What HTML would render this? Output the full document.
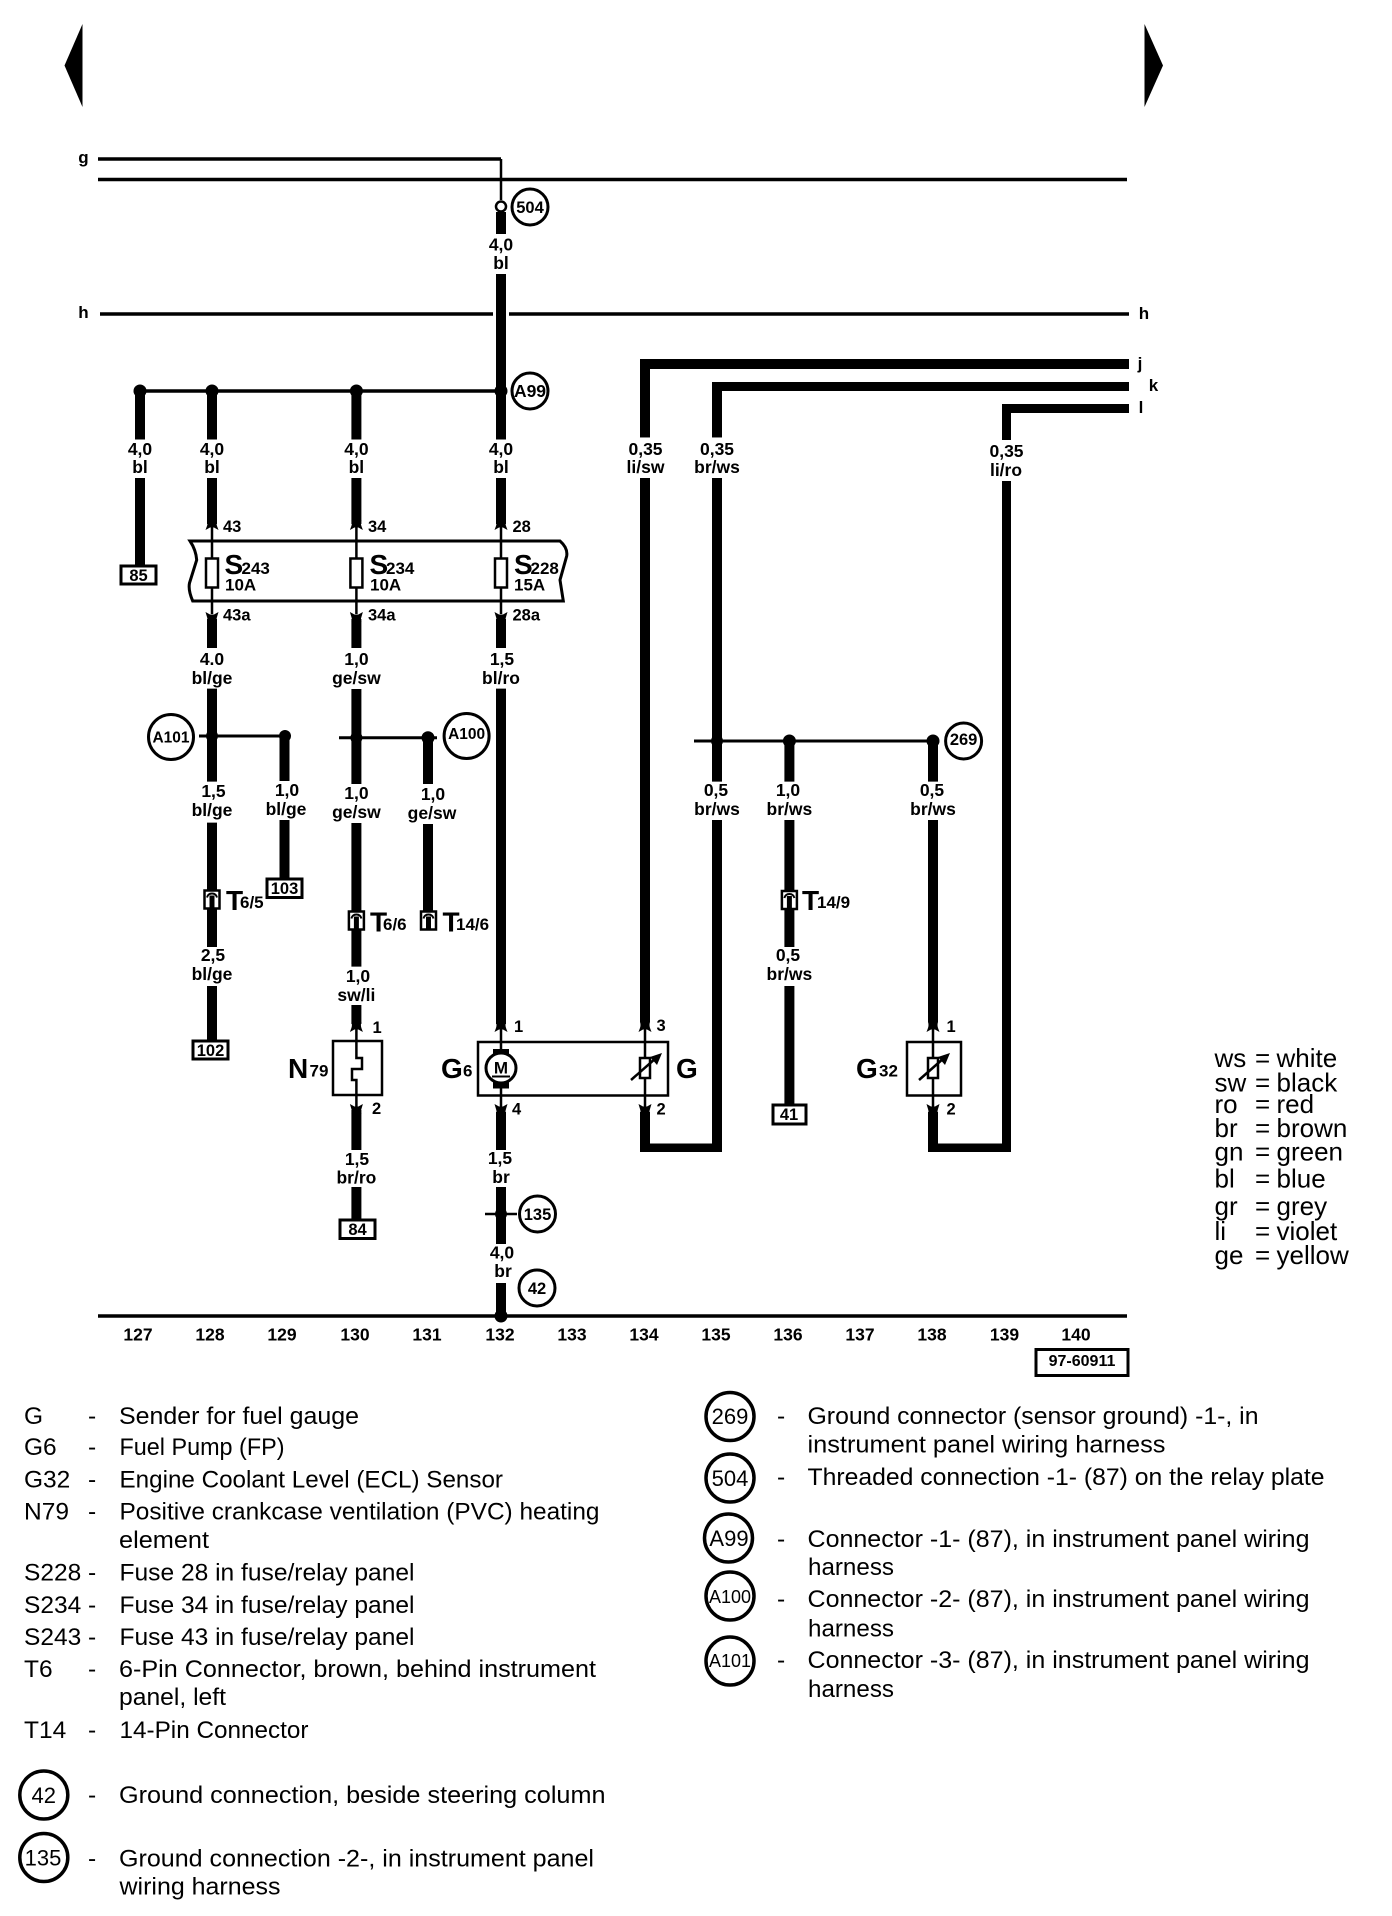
<!DOCTYPE html>
<html><head><meta charset="utf-8"><style>
html,body{margin:0;padding:0;background:#fff}
svg{display:block}
text{font-family:"Liberation Sans",sans-serif;fill:#000}
.b text,.b{font-weight:bold;font-size:17.5px;text-anchor:middle}
.p text{font-weight:bold;font-size:16.5px}
.big{font-weight:bold;font-size:28px}
.sub{font-weight:bold;font-size:17px}
.l text{font-size:24.5px}
.k text{font-size:26px}
.c{fill:#fff;stroke:#000;stroke-width:3}
.w{stroke:#000;stroke-width:10;fill:none}
.t{stroke:#000;stroke-width:3.5;fill:none}
.s{stroke:#000;stroke-width:2.5;fill:none}
.bx{fill:#fff;stroke:#000;stroke-width:3}
</style></head><body>
<svg width="1392" height="1916" viewBox="0 0 1392 1916" xmlns="http://www.w3.org/2000/svg">
<defs>
<g id="u"><path d="M-6.5 4 L-5 0 Q-4 -3 -5 -6 H5 Q4 -3 5 0 L6.5 4 L2 1.5 H-2Z" fill="#000"/></g>
<g id="d"><path d="M-6.5 -4 L-2 -1.5 H2 L6.5 -4 L5 1 Q4 4 5 6 H-5 Q-4 4 -5 1Z" fill="#000"/></g>
<g id="cn"><rect x="-7.5" y="-9" width="15" height="18" fill="#fff" stroke="#000" stroke-width="2.5"/><path d="M-5 -2 Q-4 -6 0 -6 Q4 -6 5 -2" fill="none" stroke="#000" stroke-width="2"/><rect x="-2.5" y="-4" width="5" height="13" fill="#000"/></g>
<g id="r"><rect x="-5" y="-10" width="10" height="20" fill="#fff" stroke="#000" stroke-width="2.5"/><path d="M-14 12 L11 -10" stroke="#000" stroke-width="2.5"/><path d="M17 -15 L5 -11 L12 -3Z" fill="#000"/></g>
<g id="f"><rect x="-6" y="-14.5" width="12" height="29" fill="#fff" stroke="#000" stroke-width="2.5"/></g>
</defs>

<!-- nav arrows -->
<path d="M82.5 24 V107 L64.5 65.5Z" fill="#000"/>
<path d="M1144.5 24 V107 L1163 65.5Z" fill="#000"/>

<!-- rails -->
<path class="t" d="M98 159 H501"/>
<path class="s" d="M501 159 V200"/>
<path class="t" d="M98 179.5 H1127"/>
<path class="t" d="M100 314 H493 M509 314 H1129"/>
<path class="t" d="M98 1316 H1127"/>

<!-- thick wires -->
<path class="w" d="M501 212V234 M501 274V439.5 M501 478V524 M501 619V648 M501 688.6V1024 M501 1112V1150 M501 1187V1244 M501 1283V1316"/>
<path class="w" d="M212 391V439.5 M212 478V524 M212 619V648 M212 688.6V781.6 M212 822.6V947 M212 986V1041"/>
<path class="w" d="M140 391V439.5 M140 478V565"/>
<path class="w" d="M356.4 391V439.5 M356.4 478V524 M356.4 619V648 M356.4 689V784 M356.4 823V966.6 M356.4 1005V1024 M356.4 1110V1150 M356.4 1187V1220"/>
<path class="w" d="M284.5 736V781 M284.5 820V879"/>
<path class="w" d="M428 738V784 M428 824V911"/>
<path class="w" d="M645 364V437.4 M645 478V1022"/>
<path class="w" d="M717 386V437.4 M717 478V781.6 M717 820V1152"/>
<path class="w" d="M789.4 741V781.6 M789.4 820V947 M789.4 986V1105"/>
<path class="w" d="M933 741V781.6 M933 820V1022"/>
<path class="w" style="stroke-width:9" d="M1006.5 408V440 M1006.5 481V1152"/>
<path d="M640 359H1129V369H650V437.4H640Z" fill="#000"/>
<path d="M712 382H1129V391H722V437.4H712Z" fill="#000"/>
<path d="M1002 404H1129V413H1011V440H1002Z" fill="#000"/>
<path d="M640 1112H650V1143.5H712V1152H640Z" fill="#000"/>
<path d="M928 1112H938V1143.5H1006V1152H928Z" fill="#000"/>

<!-- junction buses -->
<path class="t" d="M140 391H501"/>
<path class="t" style="stroke-width:3" d="M199 736H286"/>
<path class="t" style="stroke-width:3" d="M339 737.7H437"/>
<path class="t" style="stroke-width:3" d="M694 741H933"/>
<path class="s" d="M485 1214H517"/>
<g fill="#000">
<circle cx="140" cy="391" r="6.5"/><circle cx="212" cy="391" r="6.5"/><circle cx="356.4" cy="391" r="6.5"/><circle cx="501" cy="391" r="6.5"/>
<circle cx="212" cy="736" r="6"/><circle cx="285" cy="736" r="6"/><circle cx="356.4" cy="737.7" r="6"/><circle cx="428" cy="737.7" r="6.5"/>
<circle cx="717" cy="741" r="6"/><circle cx="789.4" cy="741" r="6.5"/><circle cx="933" cy="741" r="6.5"/>
<circle cx="501" cy="1214" r="6"/><circle cx="501" cy="1316" r="6.5"/>
</g>
<circle cx="501" cy="206.5" r="5" fill="#fff" stroke="#000" stroke-width="2.5"/>

<!-- fuse panel -->
<path d="M190 541 H560 Q568 548 566.7 556 L560 580 L563.3 601 H192.7 Q188 590 189.5 583 L196.7 560 Q196 550 190 541Z" fill="#fff" stroke="#000" stroke-width="3"/>
<path class="s" d="M212 526V614 M356.4 526V614 M501 526V614"/>
<use href="#f" x="212" y="573"/><use href="#f" x="356.4" y="573"/><use href="#f" x="501" y="573"/>
<use href="#u" x="212" y="526"/><use href="#u" x="356.4" y="526"/><use href="#u" x="501" y="526"/>
<use href="#d" x="212" y="616"/><use href="#d" x="356.4" y="616"/><use href="#d" x="501" y="616"/>
<text class="big" x="224.5" y="574">S</text><text class="sub" x="241.5" y="574">243</text><text class="sub" x="225" y="590.5">10A</text>
<text class="big" x="369.5" y="574">S</text><text class="sub" x="386" y="574">234</text><text class="sub" x="370" y="590.5">10A</text>
<text class="big" x="514" y="574">S</text><text class="sub" x="530.5" y="574">228</text><text class="sub" x="514" y="590.5">15A</text>

<!-- wire labels -->
<g class="b">
<text x="501" y="250.5">4,0</text><text x="501" y="269">bl</text>
<text x="140" y="455">4,0</text><text x="140" y="473">bl</text>
<text x="212" y="455">4,0</text><text x="212" y="473">bl</text>
<text x="356.4" y="455">4,0</text><text x="356.4" y="473">bl</text>
<text x="501" y="455">4,0</text><text x="501" y="473">bl</text>
<text x="645.5" y="455">0,35</text><text x="645.5" y="473">li/sw</text>
<text x="717" y="455">0,35</text><text x="717" y="473">br/ws</text>
<text x="1006.5" y="457">0,35</text><text x="1006" y="476">li/ro</text>
<text x="212" y="665">4.0</text><text x="212" y="684">bl/ge</text>
<text x="356.4" y="665">1,0</text><text x="356.4" y="684">ge/sw</text>
<text x="502" y="665">1,5</text><text x="501" y="684">bl/ro</text>
<text x="213.5" y="797">1,5</text><text x="212" y="816">bl/ge</text>
<text x="287" y="796">1,0</text><text x="286" y="815">bl/ge</text>
<text x="356.4" y="799">1,0</text><text x="356.4" y="818">ge/sw</text>
<text x="433" y="800">1,0</text><text x="432" y="819">ge/sw</text>
<text x="716" y="796">0,5</text><text x="717" y="815">br/ws</text>
<text x="788" y="796">1,0</text><text x="789.4" y="815">br/ws</text>
<text x="932" y="796">0,5</text><text x="933" y="815">br/ws</text>
<text x="213" y="961">2,5</text><text x="212" y="980">bl/ge</text>
<text x="788" y="961">0,5</text><text x="789.4" y="980">br/ws</text>
<text x="358" y="982">1,0</text><text x="356.4" y="1001">sw/li</text>
<text x="357" y="1165">1,5</text><text x="356.4" y="1183.5">br/ro</text>
<text x="500" y="1164">1,5</text><text x="501" y="1183">br</text>
<text x="502" y="1258.5">4,0</text><text x="503" y="1277">br</text>
</g>

<!-- pin labels -->
<g class="p">
<text x="223" y="532">43</text><text x="368" y="532">34</text><text x="512.5" y="532">28</text>
<text x="223" y="620.5">43a</text><text x="368" y="620.5">34a</text><text x="512.5" y="620.5">28a</text>
<text x="372.5" y="1033">1</text><text x="372" y="1114">2</text>
<text x="514" y="1032">1</text><text x="512" y="1114.5">4</text>
<text x="656.5" y="1031">3</text><text x="656.5" y="1114.5">2</text>
<text x="946.5" y="1032">1</text><text x="946.5" y="1114.5">2</text>
</g>

<!-- end boxes -->
<g>
<rect class="bx" x="121" y="566" width="35" height="18"/><text class="b" style="font-size:16.5px" x="138.5" y="581">85</text>
<rect class="bx" x="193" y="1041" width="35" height="18"/><text class="b" style="font-size:16.5px" x="210.5" y="1056">102</text>
<rect class="bx" x="267" y="879" width="35" height="18.5"/><text class="b" style="font-size:16.5px" x="284.5" y="894">103</text>
<rect class="bx" x="340" y="1220" width="35" height="18.5"/><text class="b" style="font-size:16.5px" x="357.5" y="1235">84</text>
<rect class="bx" x="773" y="1105" width="33" height="19"/><text class="b" style="font-size:16.5px" x="789" y="1120">41</text>
</g>

<!-- connectors -->
<use href="#cn" x="212" y="899.5"/><use href="#cn" x="356.4" y="920.5"/><use href="#cn" x="428.5" y="920.5"/><use href="#cn" x="789.4" y="900"/>
<text class="big" x="226" y="910">T</text><text class="sub" x="240" y="908">6/5</text>
<text class="big" x="370" y="931.5">T</text><text class="sub" x="383" y="930">6/6</text>
<text class="big" x="442.5" y="931.5">T</text><text class="sub" x="456" y="930">14/6</text>
<text class="big" x="802" y="910">T</text><text class="sub" x="817" y="908">14/9</text>

<!-- N79 -->
<rect x="333" y="1041" width="49" height="54" fill="#fff" stroke="#000" stroke-width="2.5"/>
<path class="s" d="M356.4 1027 V1058 H362 V1069 H352 V1080 H356.4 V1108"/>
<use href="#u" x="356.4" y="1028"/><use href="#d" x="356.4" y="1108"/>
<text class="big" x="288" y="1078">N</text><text class="sub" x="309.5" y="1076.5">79</text>

<!-- G6 / G -->
<rect x="478" y="1042" width="190" height="53.5" fill="#fff" stroke="#000" stroke-width="2.5"/>
<path class="s" d="M501 1027V1108 M645 1027V1108"/>
<use href="#u" x="501" y="1028"/><use href="#u" x="645" y="1028"/>
<use href="#d" x="501" y="1108"/><use href="#d" x="645" y="1108"/>
<rect x="493" y="1049" width="16" height="39.5" fill="#000"/>
<circle cx="501" cy="1068" r="15" fill="#fff" stroke="#000" stroke-width="3"/>
<text x="501" y="1073.5" text-anchor="middle" style="font-weight:bold;font-size:17px">M</text>
<path d="M492 1076.5H510" stroke="#000" stroke-width="2"/>
<use href="#r" x="645" y="1068"/>
<text class="big" x="441" y="1078">G</text><text class="sub" x="463" y="1076.5">6</text>
<text class="big" x="676" y="1078">G</text>

<!-- G32 -->
<rect x="907" y="1042" width="54" height="53.5" fill="#fff" stroke="#000" stroke-width="2.5"/>
<path class="s" d="M933 1027V1108"/>
<use href="#u" x="933" y="1028"/><use href="#d" x="933" y="1108"/>
<use href="#r" x="933" y="1068"/>
<text class="big" x="856" y="1078">G</text><text class="sub" x="879" y="1076.5">32</text>

<!-- reference circles -->
<g style="font-weight:bold">
<circle class="c" cx="530" cy="207" r="18"/><text x="530" y="213" text-anchor="middle" style="font-size:16.5px">504</text>
<circle class="c" cx="530" cy="391" r="18"/><text x="530" y="397" text-anchor="middle" style="font-size:17.5px">A99</text>
<circle class="c" cx="171" cy="737" r="22.5"/><text x="171" y="742.5" text-anchor="middle" style="font-size:15.5px">A101</text>
<circle class="c" cx="466.6" cy="736" r="22.5"/><text x="466.6" y="739" text-anchor="middle" style="font-size:15.5px">A100</text>
<circle class="c" cx="963.6" cy="741" r="18"/><text x="963.6" y="745" text-anchor="middle" style="font-size:16.5px">269</text>
<circle class="c" cx="537.5" cy="1214" r="18"/><text x="537.5" y="1220" text-anchor="middle" style="font-size:16.5px">135</text>
<circle class="c" cx="537" cy="1288" r="18"/><text x="537" y="1294" text-anchor="middle" style="font-size:16.5px">42</text>
</g>

<!-- rail letters -->
<g style="font-weight:bold;font-size:17px" text-anchor="middle">
<text x="83.5" y="163">g</text><text x="83.5" y="318">h</text>
<text x="1144" y="319">h</text><text x="1140" y="369">j</text><text x="1153.5" y="391">k</text><text x="1141" y="413">l</text>
</g>

<!-- column numbers -->
<g class="b" style="font-size:16.5px">
<text x="138" y="1340.5">127</text><text x="210" y="1340.5">128</text><text x="282" y="1340.5">129</text><text x="355" y="1340.5">130</text><text x="427" y="1340.5">131</text><text x="500" y="1340.5">132</text><text x="572" y="1340.5">133</text><text x="644" y="1340.5">134</text><text x="716" y="1340.5">135</text><text x="788" y="1340.5">136</text><text x="860" y="1340.5">137</text><text x="932" y="1340.5">138</text><text x="1004.5" y="1340.5">139</text><text x="1076" y="1340.5">140</text>
</g>
<rect class="bx" x="1036" y="1349.5" width="92" height="26"/>
<text x="1082" y="1366" text-anchor="middle" style="font-weight:bold;font-size:16px">97-60911</text>

<!-- colour key -->
<g class="k">
<text x="1214.5" y="1067">ws</text><text x="1255" y="1067">=</text><text x="1276.5" y="1067">white</text>
<text x="1214.5" y="1091.5">sw</text><text x="1255" y="1091.5">=</text><text x="1276.5" y="1091.5">black</text>
<text x="1214.5" y="1113">ro</text><text x="1255" y="1113">=</text><text x="1276.5" y="1113">red</text>
<text x="1214.5" y="1137">br</text><text x="1255" y="1137">=</text><text x="1276.5" y="1137">brown</text>
<text x="1214.5" y="1160.5">gn</text><text x="1255" y="1160.5">=</text><text x="1276.5" y="1160.5">green</text>
<text x="1214.5" y="1187.5">bl</text><text x="1255" y="1187.5">=</text><text x="1276.5" y="1187.5">blue</text>
<text x="1214.5" y="1215">gr</text><text x="1255" y="1215">=</text><text x="1276.5" y="1215">grey</text>
<text x="1214.5" y="1240">li</text><text x="1255" y="1240">=</text><text x="1276.5" y="1240">violet</text>
<text x="1214.5" y="1264">ge</text><text x="1255" y="1264">=</text><text x="1276.5" y="1264">yellow</text>
</g>

<!-- legend left -->
<g class="l">
<text x="24" y="1424">G</text><text x="88" y="1424">-</text><text x="119" y="1424" textLength="240" lengthAdjust="spacingAndGlyphs">Sender for fuel gauge</text>
<text x="24" y="1455">G6</text><text x="88" y="1455">-</text><text x="119.5" y="1455" textLength="165" lengthAdjust="spacingAndGlyphs">Fuel Pump (FP)</text>
<text x="24" y="1487.5">G32</text><text x="88" y="1487.5">-</text><text x="119.5" y="1487.5" textLength="383.5" lengthAdjust="spacingAndGlyphs">Engine Coolant Level (ECL) Sensor</text>
<text x="24" y="1519.5">N79</text><text x="88" y="1519.5">-</text><text x="119.5" y="1519.5" textLength="480" lengthAdjust="spacingAndGlyphs">Positive crankcase ventilation (PVC) heating</text>
<text x="119" y="1548" textLength="90" lengthAdjust="spacingAndGlyphs">element</text>
<text x="24" y="1580.5">S228</text><text x="88" y="1580.5">-</text><text x="119.5" y="1580.5" textLength="295" lengthAdjust="spacingAndGlyphs">Fuse 28 in fuse/relay panel</text>
<text x="24" y="1613">S234</text><text x="88" y="1613">-</text><text x="119.5" y="1613" textLength="295" lengthAdjust="spacingAndGlyphs">Fuse 34 in fuse/relay panel</text>
<text x="24" y="1645">S243</text><text x="88" y="1645">-</text><text x="119.5" y="1645" textLength="295" lengthAdjust="spacingAndGlyphs">Fuse 43 in fuse/relay panel</text>
<text x="24" y="1677">T6</text><text x="88" y="1677">-</text><text x="119" y="1677" textLength="477" lengthAdjust="spacingAndGlyphs">6-Pin Connector, brown, behind instrument</text>
<text x="119" y="1705" textLength="107" lengthAdjust="spacingAndGlyphs">panel, left</text>
<text x="24" y="1738">T14</text><text x="88" y="1738">-</text><text x="119.5" y="1738" textLength="189" lengthAdjust="spacingAndGlyphs">14-Pin Connector</text>
<text x="88" y="1803">-</text><text x="119" y="1803" textLength="486.5" lengthAdjust="spacingAndGlyphs">Ground connection, beside steering column</text>
<text x="88" y="1866.5">-</text><text x="119" y="1866.5" textLength="475" lengthAdjust="spacingAndGlyphs">Ground connection -2-, in instrument panel</text>
<text x="119.5" y="1894.5" textLength="161" lengthAdjust="spacingAndGlyphs">wiring harness</text>
</g>
<circle class="c" style="stroke-width:3.5" cx="43.8" cy="1795" r="24"/><text x="43.8" y="1803" text-anchor="middle" style="font-size:22px">42</text>
<circle class="c" style="stroke-width:3.5" cx="43.8" cy="1857.5" r="24"/><text x="43" y="1865.5" text-anchor="middle" style="font-size:22px">135</text>

<!-- legend right -->
<g class="l">
<text x="777" y="1424">-</text><text x="807.5" y="1424" textLength="451" lengthAdjust="spacingAndGlyphs">Ground connector (sensor ground) -1-, in</text>
<text x="807.5" y="1452.5" textLength="358" lengthAdjust="spacingAndGlyphs">instrument panel wiring harness</text>
<text x="777" y="1485">-</text><text x="807.5" y="1485" textLength="517" lengthAdjust="spacingAndGlyphs">Threaded connection -1- (87) on the relay plate</text>
<text x="777" y="1547">-</text><text x="807.5" y="1547" textLength="502" lengthAdjust="spacingAndGlyphs">Connector -1- (87), in instrument panel wiring</text>
<text x="808" y="1575" textLength="86" lengthAdjust="spacingAndGlyphs">harness</text>
<text x="777" y="1607">-</text><text x="807.5" y="1607" textLength="502" lengthAdjust="spacingAndGlyphs">Connector -2- (87), in instrument panel wiring</text>
<text x="808" y="1636.5" textLength="86" lengthAdjust="spacingAndGlyphs">harness</text>
<text x="777" y="1668">-</text><text x="807.5" y="1668" textLength="502" lengthAdjust="spacingAndGlyphs">Connector -3- (87), in instrument panel wiring</text>
<text x="808" y="1697" textLength="86" lengthAdjust="spacingAndGlyphs">harness</text>
</g>
<g style="font-size:22px" text-anchor="middle">
<circle class="c" style="stroke-width:3.5" cx="730" cy="1416.5" r="24"/><text x="730" y="1424">269</text>
<circle class="c" style="stroke-width:3.5" cx="730" cy="1478" r="24"/><text x="730" y="1486">504</text>
<circle class="c" style="stroke-width:3.5" cx="728.5" cy="1538" r="24"/><text x="729" y="1546">A99</text>
<circle class="c" style="stroke-width:3.5" cx="730" cy="1596" r="24"/><text x="730" y="1603" style="font-size:18px">A100</text>
<circle class="c" style="stroke-width:3.5" cx="730" cy="1661" r="24"/><text x="730" y="1667" style="font-size:18px">A101</text>
</g>
</svg>
</body></html>
